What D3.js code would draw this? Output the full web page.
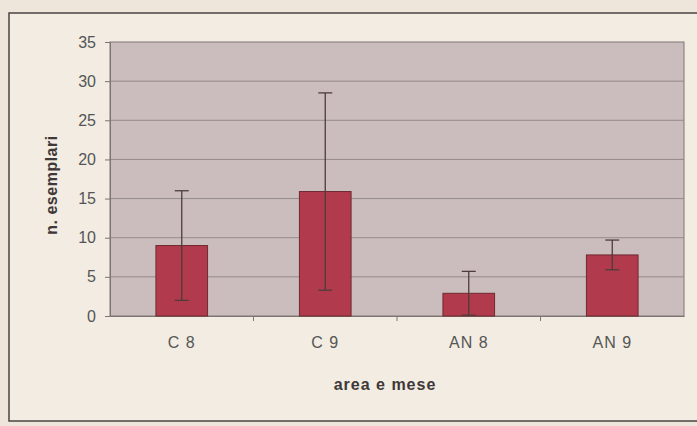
<!DOCTYPE html>
<html>
<head>
<meta charset="utf-8">
<script src="https://cdn.jsdelivr.net/npm/d3@7"></script>
<style>
body{margin:0;background:#eee6da;}
svg{display:block;font-family:"Liberation Sans",Arial,sans-serif;}
</style>
</head>
<body>
<script>
// data
const categories=["C 8","C 9","AN 8","AN 9"];
const means=[9,15.9,2.9,7.8];
const errs=[7,12.6,2.8,1.9];
const yTicks=[0,5,10,15,20,25,30,35];

const W=697,H=426;
const svg=d3.select("body").append("svg").attr("width",W).attr("height",H);

// frame
svg.append("rect").attr("x",9).attr("y",13).attr("width",W+5).attr("height",408)
.attr("fill","#f2ece2").attr("stroke","#4a4444").attr("stroke-width",1.5);

const m={l:110,r:684,t:42,b:316};
const x=d3.scaleBand().domain(categories).range([m.l,m.r]);
const y=d3.scaleLinear().domain([0,35]).range([m.b,m.t]);

svg.append("rect").attr("x",m.l).attr("y",m.t).attr("width",m.r-m.l).attr("height",m.b-m.t)
.attr("fill","#cbbdbe").attr("stroke","#7e7474").attr("stroke-width",1);

// grid
svg.append("g").selectAll("line").data(yTicks.slice(1,-1)).join("line")
.attr("x1",m.l).attr("x2",m.r).attr("y1",d=>y(d)).attr("y2",d=>y(d))
.attr("stroke","#958a8a").attr("stroke-width",1);

// y axis
const ya=svg.append("g").attr("transform",`translate(${m.l},0)`)
.call(d3.axisLeft(y).tickValues(yTicks).tickSize(5).tickPadding(9));
ya.select(".domain").attr("stroke","#7e7474");
ya.selectAll("line").attr("stroke","#7e7474");
ya.selectAll("text").attr("fill","#555").style("font-size","16px");

// x axis
const xa=svg.append("g").attr("transform",`translate(0,${m.b})`)
.call(d3.axisBottom(x).tickSize(0).tickPadding(21));
xa.select(".domain").attr("stroke","#7e7474");
xa.selectAll("text").attr("fill","#555").style("font-size","16px").style("letter-spacing","1px");
svg.append("g").selectAll("line").data(categories.slice(1)).join("line")
.attr("x1",d=>x(d)).attr("x2",d=>x(d)).attr("y1",m.b).attr("y2",m.b+5)
.attr("stroke","#7e7474");

// bars
const bw=x.bandwidth()*0.36;
const cx=d=>x(d)+x.bandwidth()/2;
svg.append("g").selectAll("rect").data(categories).join("rect")
.attr("x",d=>cx(d)-bw/2).attr("width",bw)
.attr("y",(d,i)=>y(means[i])).attr("height",(d,i)=>m.b-y(means[i]))
.attr("fill","#b13b4c").attr("stroke","#6e2a30").attr("stroke-width",1);

// error bars
const eb=svg.append("g").attr("stroke","#4e3c3c").attr("stroke-width",1.3);
categories.forEach((c,i)=>{
  const lo=Math.max(0,means[i]-errs[i]),hi=means[i]+errs[i];
  eb.append("line").attr("x1",cx(c)).attr("x2",cx(c)).attr("y1",y(lo)).attr("y2",y(hi));
  eb.append("line").attr("x1",cx(c)-7).attr("x2",cx(c)+7).attr("y1",y(hi)).attr("y2",y(hi));
  if(means[i]-errs[i]>0)
    eb.append("line").attr("x1",cx(c)-7).attr("x2",cx(c)+7).attr("y1",y(lo)).attr("y2",y(lo));
});

// axis titles
svg.append("text").attr("x",(m.l+m.r)/2-12).attr("y",390).attr("text-anchor","middle")
.attr("fill","#3e3838").style("font-size","16px").style("font-weight","bold")
.style("letter-spacing","1px").text("area e mese");
svg.append("text").attr("transform","translate(57,185) rotate(-90)").attr("text-anchor","middle")
.attr("fill","#3e3838").style("font-size","16px").style("font-weight","bold")
.style("letter-spacing","0.5px").text("n. esemplari");
</script>
</body>
</html>
